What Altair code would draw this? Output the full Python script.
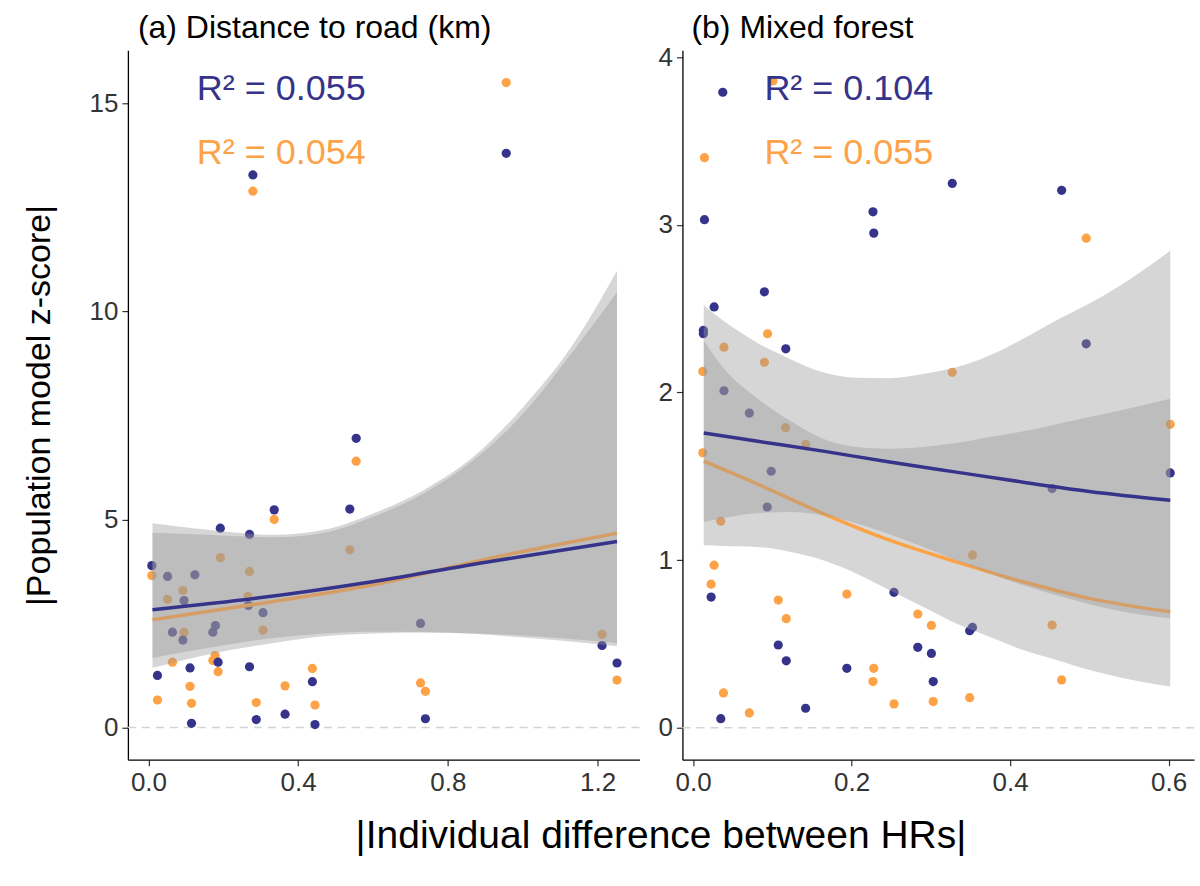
import altair as alt
import pandas as pd

NAVY = "#35338A"
ORANGE = "#FDA246"
FONT = "Liberation Sans"

# ---------------- Panel (a): Distance to road (km) ----------------
a_navy_x = [0.009, 0.051, 0.124, 0.095, 0.192, 0.270, 0.267, 0.336, 0.306, 0.555,
            0.538, 0.064, 0.092, 0.179, 0.172, 0.186, 0.024, 0.111, 0.115, 0.270,
            0.288, 0.365, 0.438, 0.445, 0.727, 0.740, 1.212, 1.252, 0.956, 0.279]
a_navy_y = [3.89, 3.63, 3.67, 3.05, 4.79, 4.64, 2.93, 5.23, 2.76, 6.95,
            5.25, 2.29, 2.10, 2.45, 2.29, 1.57, 1.25, 1.43, 0.10, 1.46,
            0.19, 0.32, 1.10, 0.07, 2.50, 0.21, 1.97, 1.55, 13.8, 13.28]
a_orange_x = [0.009, 0.092, 0.051, 0.192, 0.270, 0.266, 0.336, 0.306, 0.555, 0.538,
              0.095, 0.064, 0.178, 0.172, 0.186, 0.024, 0.111, 0.115, 0.288, 0.365,
              0.438, 0.445, 0.727, 0.740, 1.212, 1.252, 0.956, 0.279]
a_orange_y = [3.65, 3.29, 3.08, 4.08, 3.75, 3.15, 5.0, 2.34, 6.4, 4.27,
              2.29, 1.57, 1.73, 1.61, 1.34, 0.66, 0.99, 0.58, 0.60, 1.0,
              1.42, 0.54, 1.07, 0.87, 2.24, 1.14, 15.5, 12.89]
a_fit_x = [0.0107, 0.291, 0.602, 0.914, 1.252]
a_fit_navy = [2.83, 3.11, 3.51, 3.99, 4.47]
a_fit_orange = [2.59, 2.97, 3.43, 4.07, 4.67]
a_band_x = [0.0107, 0.157, 0.335, 0.469, 0.602, 0.736, 0.869, 1.002, 1.136, 1.252]
a_navy_hi = [4.68, 4.63, 4.57, 4.68, 5.07, 5.63, 6.43, 7.55, 9.06, 10.46]
a_navy_lo = [1.67, 1.91, 2.15, 2.26, 2.30, 2.29, 2.25, 2.16, 2.06, 1.95]
a_orange_hi = [4.91, 4.75, 4.63, 4.75, 5.15, 5.71, 6.51, 7.71, 9.23, 10.98]
a_orange_lo = [1.43, 1.75, 2.03, 2.19, 2.26, 2.28, 2.26, 2.21, 2.12, 2.03]
a_r2_text = ["R² = 0.055", "R² = 0.054"]
a_r2_x = [0.129, 0.129]
a_r2_y = [15.35, 13.81]

# ---------------- Panel (b): Mixed forest ----------------
b_navy_x = [0.0375, 0.0144, 0.227, 0.228, 0.327, 0.465, 0.090, 0.0266, 0.013, 0.013,
            0.117, 0.496, 0.039, 0.071, 0.0986, 0.0936, 0.602, 0.453, 0.2535, 0.349,
            0.3525, 0.0228, 0.1075, 0.1176, 0.194, 0.2835, 0.3007, 0.303, 0.035, 0.142]
b_navy_y = [3.79, 3.03, 3.077, 2.95, 3.246, 3.205, 2.60, 2.51, 2.37, 2.35,
            2.26, 2.29, 2.01, 1.877, 1.53, 1.317, 1.52, 1.427, 0.808, 0.579,
            0.599, 0.78, 0.494, 0.40, 0.355, 0.48, 0.444, 0.276, 0.055, 0.117]
b_orange_x = [0.1007, 0.0144, 0.496, 0.094, 0.039, 0.090, 0.0123, 0.1167, 0.142, 0.0123,
              0.035, 0.327, 0.602, 0.3525, 0.453, 0.0266, 0.0228, 0.1075, 0.1176, 0.194,
              0.228, 0.227, 0.2835, 0.3007, 0.303, 0.2535, 0.349, 0.465, 0.0384, 0.071]
b_orange_y = [3.857, 3.40, 2.92, 2.35, 2.27, 2.18, 2.125, 1.79, 1.69, 1.64,
              1.232, 2.12, 1.81, 1.03, 0.613, 0.97, 0.857, 0.762, 0.651, 0.798,
              0.355, 0.276, 0.679, 0.611, 0.157, 0.143, 0.18, 0.286, 0.208, 0.089]
b_fit_x = [0.0135, 0.0797, 0.164, 0.248, 0.332, 0.4165, 0.50, 0.602]
b_fit_navy = [1.758, 1.71, 1.65, 1.585, 1.525, 1.465, 1.41, 1.357]
b_fit_orange = [1.59, 1.457, 1.278, 1.119, 0.99, 0.871, 0.772, 0.692]
b_band_x = [0.0135, 0.0375, 0.0797, 0.122, 0.164, 0.206, 0.248, 0.290, 0.332, 0.374,
            0.4165, 0.4586, 0.50, 0.543, 0.602]
b_navy_hi = [2.518, 2.43, 2.30, 2.20, 2.12, 2.087, 2.085, 2.11, 2.15, 2.22,
             2.32, 2.43, 2.53, 2.65, 2.845]
b_navy_lo = [1.228, 1.25, 1.28, 1.287, 1.267, 1.22, 1.155, 1.08, 1.0, 0.92,
             0.85, 0.79, 0.737, 0.692, 0.653]
b_orange_hi = [2.31, 2.15, 1.97, 1.833, 1.724, 1.675, 1.665, 1.675, 1.698, 1.734,
               1.768, 1.81, 1.853, 1.897, 1.962]
b_orange_lo = [1.089, 1.085, 1.079, 1.05, 1.0, 0.921, 0.821, 0.722, 0.623, 0.544,
               0.464, 0.405, 0.345, 0.296, 0.246]
b_r2_text = ["R² = 0.104", "R² = 0.055"]
b_r2_x = [0.090, 0.090]
b_r2_y = [3.81, 3.43]

panel_titles = ["(a) Distance to road (km)", "(b) Mixed forest"]
LABEL_SIZE = 26


def panel(nx, ny, ox, oy, fx, fn, fo, bx, nlo, nhi, olo, ohi, r2t, r2x, r2y,
          xdom, ydom, xticks, yticks, title, title_dx, xtitle, ytitle):
    pts_n = pd.DataFrame({"x": nx, "y": ny})
    pts_o = pd.DataFrame({"x": ox, "y": oy})
    fit_n = pd.DataFrame({"x": fx, "y": fn})
    fit_o = pd.DataFrame({"x": fx, "y": fo})
    band_n = pd.DataFrame({"x": bx, "lo": nlo, "hi": nhi})
    band_o = pd.DataFrame({"x": bx, "lo": olo, "hi": ohi})
    ann = pd.DataFrame({"x": r2x, "y": r2y, "t": r2t, "c": [NAVY, ORANGE]})
    zero = pd.DataFrame({"y": [0]})
    ttl = pd.DataFrame({"t": [title]})

    xaxis_kw = dict(values=xticks, format=".1f", grid=False, tickSize=6,
                    labelPadding=4, labelFontSize=LABEL_SIZE)
    if xtitle:
        xaxis_kw.update(title=xtitle, titleX=533, titleY=76, titleBaseline="middle",
                        titleAlign="center", titleFontSize=39)
    else:
        xaxis_kw.update(title=None)
    yaxis_kw = dict(values=yticks, format="d", grid=False, tickSize=6, labelPadding=4,
                    labelFontSize=LABEL_SIZE)
    if ytitle:
        yaxis_kw.update(title=ytitle, titleX=-88, titleY=355, titleAngle=270,
                        titleBaseline="middle", titleAlign="center", titleFontSize=34)
    else:
        yaxis_kw.update(title=None)

    xs = alt.Scale(domain=xdom, nice=False, zero=False)
    ys = alt.Scale(domain=ydom, nice=False, zero=False)
    X = alt.X("x:Q", scale=xs, axis=alt.Axis(**xaxis_kw))
    Y = alt.Y("y:Q", scale=ys, axis=alt.Axis(**yaxis_kw))

    rule = alt.Chart(zero).mark_rule(color="#d3d3d3", strokeDash=[8, 6], strokeWidth=1.5).encode(
        y=alt.Y("y:Q", scale=ys))
    po = alt.Chart(pts_o).mark_circle(size=85, opacity=1, color=ORANGE).encode(x=X, y=Y)
    pn = alt.Chart(pts_n).mark_circle(size=85, opacity=1, color=NAVY).encode(x=X, y=Y)
    ao = alt.Chart(band_o).mark_area(color="#999999", opacity=0.4, interpolate="monotone").encode(
        x=X, y=alt.Y("lo:Q", scale=ys), y2="hi:Q")
    an = alt.Chart(band_n).mark_area(color="#999999", opacity=0.4, interpolate="monotone").encode(
        x=X, y=alt.Y("lo:Q", scale=ys), y2="hi:Q")
    lo_ = alt.Chart(fit_o).mark_line(color=ORANGE, strokeWidth=3.5, interpolate="monotone").encode(x=X, y=Y)
    ln_ = alt.Chart(fit_n).mark_line(color=NAVY, strokeWidth=3.5, interpolate="monotone").encode(x=X, y=Y)
    txt = alt.Chart(ann).mark_text(align="left", baseline="middle", fontSize=36, font=FONT).encode(
        x=X, y=Y, text="t:N", color=alt.Color("c:N", scale=None))
    head = alt.Chart(ttl).mark_text(align="left", baseline="alphabetic", fontSize=32, font=FONT,
                                    color="black").encode(
        x=alt.value(title_dx), y=alt.value(-12), text="t:N")

    return alt.layer(rule, po, pn, ao, lo_, an, ln_, txt, head).properties(width=512, height=710)


pa = panel(a_navy_x, a_navy_y, a_orange_x, a_orange_y, a_fit_x, a_fit_navy, a_fit_orange,
           a_band_x, a_navy_lo, a_navy_hi, a_orange_lo, a_orange_hi, a_r2_text, a_r2_x, a_r2_y,
           [-0.055, 1.312], [-0.775, 16.275], [0, 0.4, 0.8, 1.2], [0, 5, 10, 15],
           panel_titles[0], 10, "|Individual difference between HRs|",
           "|Population model z-score|")
pb = panel(b_navy_x, b_navy_y, b_orange_x, b_orange_y, b_fit_x, b_fit_navy, b_fit_orange,
           b_band_x, b_navy_lo, b_navy_hi, b_orange_lo, b_orange_hi, b_r2_text, b_r2_x, b_r2_y,
           [-0.0134, 0.632], [-0.19, 4.04], [0, 0.2, 0.4, 0.6], [0, 1, 2, 3, 4],
           panel_titles[1], 9, None, None)

chart = alt.hconcat(pa, pb, spacing=43, bounds="flush").properties(
    padding={"left": 23, "top": 12, "right": 5, "bottom": 5},
    background="white",
).configure_view(stroke=None).configure_axis(
    domainColor="black", domainWidth=1.3, tickColor="#333333", tickWidth=1.2,
    labelColor="#333333", labelFont=FONT, titleFont=FONT, titleColor="black",
    titleFontWeight="normal",
)

chart.save("out.html", embed_options={"renderer": "svg", "actions": False})
